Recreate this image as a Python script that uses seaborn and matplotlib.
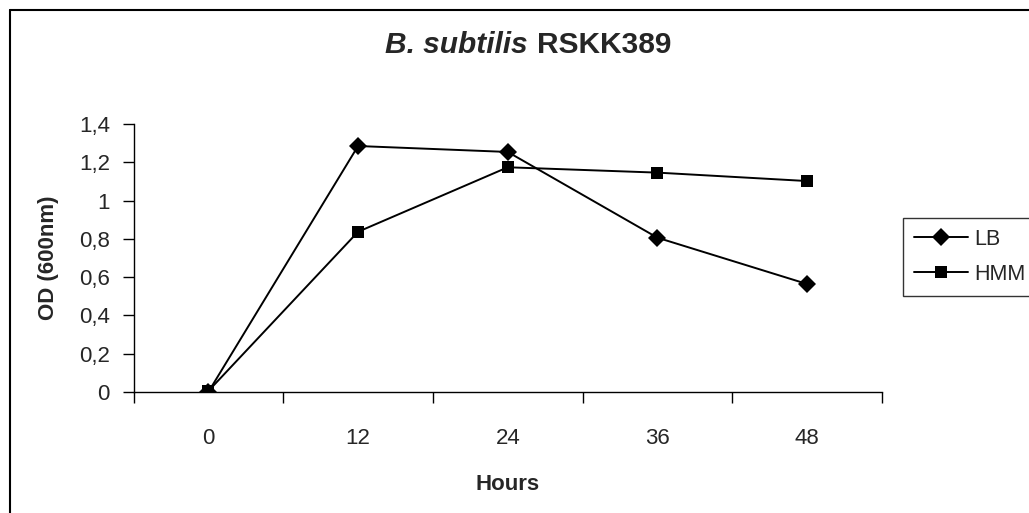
import pandas as pd
import matplotlib
matplotlib.use("Agg")
import matplotlib.pyplot as plt
import seaborn as sns
from matplotlib.lines import Line2D
from matplotlib.ticker import FixedLocator

hours = ["0", "12", "24", "36", "48"]
lb_od = [0.0, 1.285, 1.254, 0.806, 0.564]
hmm_od = [0.005, 0.837, 1.174, 1.146, 1.102]
y_ticks = [0, 0.2, 0.4, 0.6, 0.8, 1.0, 1.2, 1.4]
y_labels = ["0", "0,2", "0,4", "0,6", "0,8", "1", "1,2", "1,4"]

df = pd.concat([
    pd.DataFrame({"pos": range(len(hours)), "od": lb_od, "medium": "LB"}),
    pd.DataFrame({"pos": range(len(hours)), "od": hmm_od, "medium": "HMM"}),
], ignore_index=True)

sns.set_style("white")
plt.rcParams["font.family"] = ["Liberation Sans", "DejaVu Sans"]

W, H = 1029, 513
fig = plt.figure(figsize=(W / 100, H / 100), dpi=100)
ax = fig.add_axes([133.5 / W, 1 - 392 / H, (882 - 133.5) / W, (392 - 124) / H])

sns.lineplot(data=df, x="pos", y="od", hue="medium", style="medium",
             palette={"LB": "black", "HMM": "black"},
             markers={"LB": "D", "HMM": "s"}, dashes=False,
             markersize=9, linewidth=1.4, markeredgewidth=0,
             legend=False, ax=ax)

ax.set_xlim(-0.5, len(hours) - 0.5)
ax.set_ylim(0, 1.4)
ax.set_xticks(range(len(hours)))
ax.set_xticklabels(hours)
ax.xaxis.set_minor_locator(FixedLocator([i - 0.5 for i in range(len(hours) + 1)]))
ax.tick_params(axis="x", which="major", length=0, pad=26, labelsize=16)
ax.tick_params(axis="x", which="minor", length=8, width=1, color="black", direction="out", bottom=True)
ax.set_yticks(y_ticks)
ax.set_yticklabels(y_labels)
ax.tick_params(axis="y", length=8, width=1, color="black", direction="out", left=True, pad=9, labelsize=16)

for s in ["top", "right"]:
    ax.spines[s].set_visible(False)
for s in ["left", "bottom"]:
    ax.spines[s].set_color("black")
    ax.spines[s].set_linewidth(1)

ax.set_xlabel("Hours", fontsize=16, fontweight="bold", labelpad=18)
ax.set_ylabel("OD (600nm)", fontsize=16, fontweight="bold", labelpad=14)

# title in two pieces (italic species name)
t1 = fig.text(385 / W, 1 - 45 / H, "B. subtilis", fontsize=21.5, fontweight="bold",
              fontstyle="italic", ha="left", va="center")
fig.canvas.draw()
bb = t1.get_window_extent()
fig.text((bb.x1 + 9) / W, 1 - 45 / H, "RSKK389", fontsize=21.5, fontweight="bold",
         ha="left", va="center")

handles = [
    Line2D([], [], color="black", lw=1.4, marker="D", markersize=9, markeredgewidth=0),
    Line2D([], [], color="black", lw=1.4, marker="s", markersize=8, markeredgewidth=0),
]
leg = fig.legend(handles, ["LB", "HMM"], loc="upper left",
                 bbox_to_anchor=(903 / W, 1 - 218 / H), fontsize=15.5,
                 frameon=True, fancybox=False, handlelength=2.5,
                 handletextpad=0.3, borderpad=0.5, labelspacing=0.65,
                 borderaxespad=0)
leg.get_frame().set_edgecolor("black")
leg.get_frame().set_linewidth(1)

# outer chart frame
fig.add_artist(Line2D([10 / W, 10 / W], [0, 1 - 10 / H], color="black", lw=1.5,
                      transform=fig.transFigure))
fig.add_artist(Line2D([10 / W, 1], [1 - 10 / H, 1 - 10 / H], color="black", lw=1.5,
                      transform=fig.transFigure))

fig.savefig("out.png", dpi=100)
